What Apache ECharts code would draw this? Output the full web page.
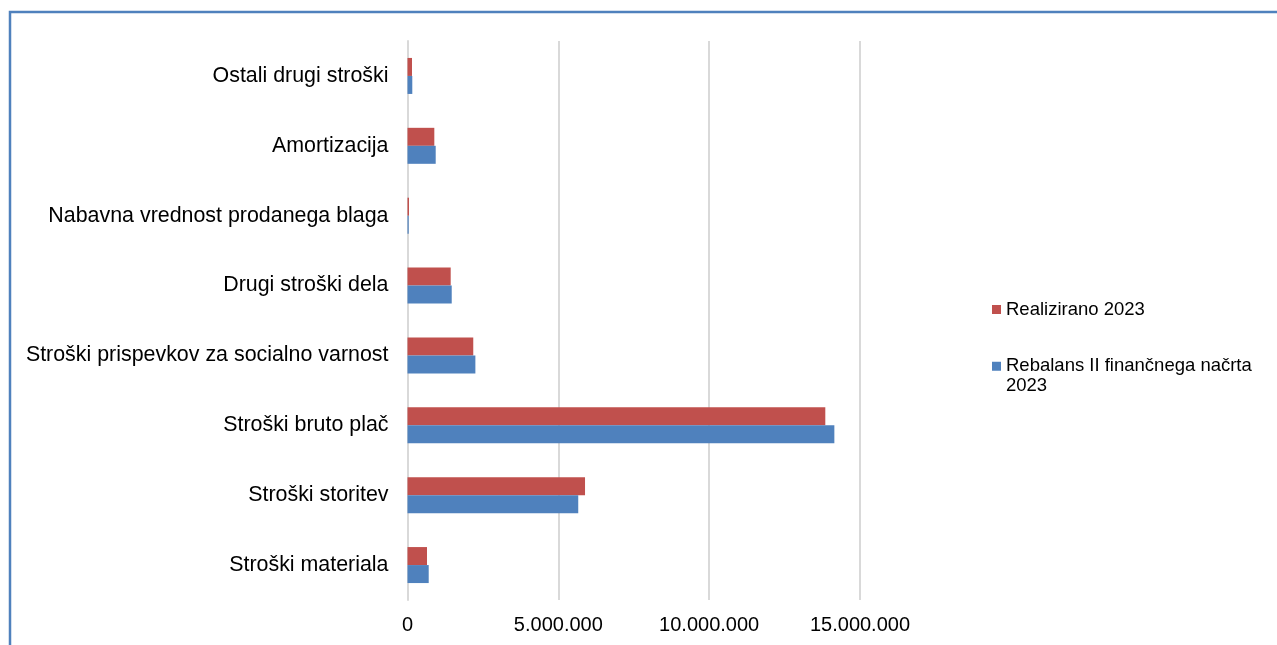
<!DOCTYPE html>
<html>
<head>
<meta charset="utf-8">
<script src="https://cdn.jsdelivr.net/npm/echarts@6/dist/echarts.min.js"></script>
<style>
html,body{margin:0;padding:0;background:#fff;}
#c{width:1277px;height:645px;}
</style>
</head>
<body>
<div id="c"></div>
<script>
const categories = ['Stroški materiala','Stroški storitev','Stroški bruto plač','Stroški prispevkov za socialno varnost','Drugi stroški dela','Nabavna vrednost prodanega blaga','Amortizacija','Ostali drugi stroški'];
const realizirano = [647000, 5885000, 13850000, 2180000, 1432000, 50000, 889000, 149000];
const rebalans = [703000, 5660000, 14150000, 2250000, 1466000, 40000, 935000, 159000];
const seriesNames = ['Realizirano 2023', 'Rebalans II finančnega načrta\n2023'];

const FONT = "'Liberation Sans', Arial, sans-serif";
function fmt(v){ return String(v).replace(/\B(?=(\d{3})+(?!\d))/g, '.'); }

const legendBase = {
  orient:'vertical', left:992, padding:0,
  itemWidth:9, itemHeight:9, icon:'rect'
};

const chart = echarts.init(document.getElementById('c'), null, {renderer:'canvas'});
chart.setOption({
  animation:false,
  backgroundColor:'#fff',
  textStyle:{fontFamily:FONT},
  graphic:[{
    type:'rect', silent:true, z:-1,
    shape:{x:10, y:12, width:2000, height:2000},
    style:{fill:'none', stroke:'#4F81BD', lineWidth:2.5}
  }],
  grid:{left:407.5, right:417, top:41, bottom:45, containLabel:false},
  xAxis:{
    type:'value', min:0, max:15000000, interval:5000000,
    axisLine:{show:false}, axisTick:{show:false},
    splitLine:{show:true, lineStyle:{color:'#D9D9D9', width:2}},
    axisLabel:{fontSize:20, color:'#000', margin:15, fontFamily:FONT, formatter:fmt}
  },
  yAxis:{
    type:'category', data:categories,
    axisLine:{show:true, lineStyle:{color:'#D9D9D9', width:2}},
    axisTick:{show:false},
    axisLabel:{fontSize:21.4, color:'#000', margin:19, fontFamily:FONT}
  },
  legend:[
    Object.assign({}, legendBase, {
      top:299.5,
      textStyle:{fontSize:18.5, color:'#000', fontFamily:FONT, lineHeight:20},
      data:[seriesNames[0]]
    }),
    Object.assign({}, legendBase, {
      top:337,
      formatter:function(name){ return ' \n' + name; },
      textStyle:{fontSize:18.5, color:'#000', fontFamily:FONT, lineHeight:19.5},
      data:[seriesNames[1]]
    })
  ],
  series:[
    {name:seriesNames[0], type:'bar', data:realizirano, barWidth:18, barGap:'0%', itemStyle:{color:'#C0504D'}},
    {name:seriesNames[1], type:'bar', data:rebalans, barWidth:18, barGap:'0%', itemStyle:{color:'#4F81BD'}}
  ]
});
</script>
</body>
</html>
